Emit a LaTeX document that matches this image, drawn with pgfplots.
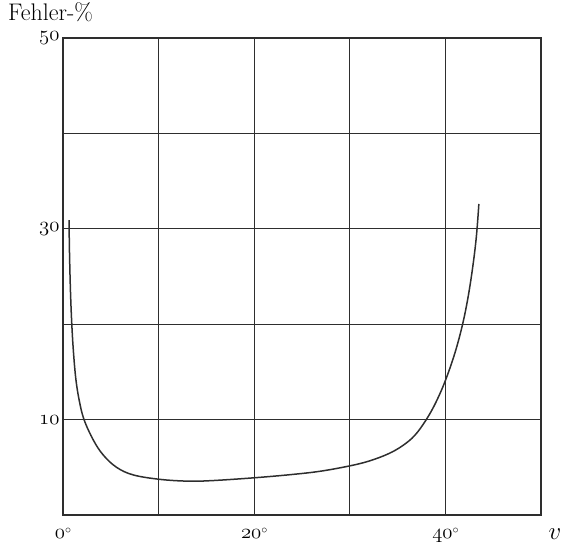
\documentclass[border=0pt]{standalone}
\usepackage{pgfplots}
\pgfplotsset{compat=1.18}
\newcommand\os[1]{{\fontencoding{OML}\fontfamily{cmm}\fontseries{m}\fontshape{it}\selectfont #1}}
\newcommand\dg{\raisebox{0.55ex}{\fontsize{13}{15}\selectfont$\circ$}}
\definecolor{ink}{HTML}{2E2E2E}
\begin{document}
\begin{tikzpicture}
\begin{axis}[
  at={(0pt,0pt)}, anchor=origin,
  scale only axis, width=478pt, height=477pt,
  xmin=0, xmax=50, ymin=0, ymax=50,
  xtick={0,10,20,30,40,50}, ytick={0,10,20,30,40,50},
  xticklabels={\os{0}\dg,,\os{20}\dg,,\os{40}\dg,},
  yticklabels={,\os{10},,\os{30},,\os{50}},
  major tick length=0pt,
  grid=major,
  grid style={ink, line width=1.2pt},
  axis line style={ink, line width=1.4pt},
  tick label style={font=\fontsize{22}{26}\selectfont},
  xticklabel style={anchor=base, yshift=-24pt},
  yticklabel style={anchor=east, inner ysep=0pt},
]
\addplot[ink, line width=1.5pt, smooth, tension=0.6] coordinates {
 (0.63,30.9) (0.68,27.5) (0.78,23.5) (0.92,20) (1.1,17) (1.35,14.2) (1.7,12) (2.2,10)
 (3.17,7.86) (4.2,6.3) (5.6,5.0) (7.35,4.2) (10.1,3.74) (13,3.55) (15.5,3.6) (20,3.9)
 (24,4.25) (27,4.6) (30,5.15) (32,5.65) (34,6.4) (35.5,7.25) (36.8,8.35) (38,10)
 (39,11.8) (40,14.1) (41,17) (41.8,20) (42.4,23) (42.9,26.3) (43.25,29.3) (43.5,32.6)
};
\end{axis}
\node[anchor=base west, inner sep=0pt, font=\fontsize{24}{28}\selectfont] at (-55pt,494pt) {Fehler-\%};
\node[anchor=base, inner sep=0pt, font=\fontsize{24}{28}\selectfont] at (492pt,-25pt) {$v$};
\path[use as bounding box] (-63pt,-28pt) rectangle (504pt,515pt);
\end{tikzpicture}
\end{document}
